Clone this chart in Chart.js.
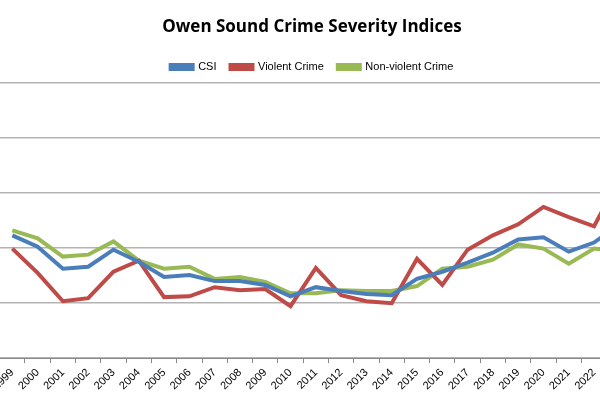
<!DOCTYPE html>
<html>
<head>
<script src="https://cdn.jsdelivr.net/npm/chart.js@4"></script>
<style>
body { margin: 0; overflow: hidden; background: #fff; }
#wrap { position: absolute; left: -8px; top: 0; width: 640px; height: 400px; }
</style>
</head>
<body>
<div id="wrap"><canvas id="chart"></canvas></div>
<script>
const years = ['1999','2000','2001','2002','2003','2004','2005','2006','2007','2008','2009','2010',
    '2011','2012','2013','2014','2015','2016','2017','2018','2019','2020','2021','2022','2023'];

const csi = [44.5,40.4,32.4,33.1,39.3,34.9,29.4,30.1,27.9,27.9,26.5,22.4,25.7,24.3,23.2,22.8,28.7,31.3,34.6,38.2,43.0,43.8,38.6,41.9,48.5];
const violent = [39.7,30.9,20.6,21.7,31.3,35.3,22.1,22.4,25.7,24.6,25.0,18.8,32.7,22.8,20.6,19.9,36.0,26.5,39.3,44.5,48.5,54.8,51.1,47.8,65.0];
const nonViolent = [46.3,43.4,36.8,37.5,42.3,35.3,32.4,33.1,28.7,29.4,27.6,23.5,23.5,24.6,24.3,24.3,26.1,32.4,33.1,35.7,41.2,39.7,34.2,39.7,38.6];

const line = (label, data, color) => ({
    label: label,
    data: data,
    borderColor: color,
    backgroundColor: color,
    borderWidth: 4,
    pointRadius: 0,
    tension: 0
});

new Chart(document.getElementById('chart'), {
    type: 'line',
    data: {
        labels: years,
        datasets: [
            line('CSI', csi, '#4a7ebb'),
            line('Violent Crime', violent, '#be4b48'),
            line('Non-violent Crime', nonViolent, '#98b954')
        ]
    },
    options: {
        responsive: true,
        maintainAspectRatio: false,
        animation: false,
        layout: { padding: 0 },
        scales: {
            x: {
                offset: true,
                grid: { offset: true, drawOnChartArea: false, tickLength: 5, color: '#888' },
                border: { color: '#888' },
                ticks: { maxRotation: 45, minRotation: 45, autoSkip: false, color: '#000',
                    font: { family: 'Liberation Sans', size: 11 } },
                afterFit: s => { s.height = 42; }
            },
            y: {
                min: 0, max: 100,
                ticks: { display: false, stepSize: 20 },
                grid: { color: '#b3b3b3', lineWidth: 1.5, drawTicks: false },
                border: { display: false },
                afterFit: s => { s.width = 0; }
            }
        },
        plugins: {
            title: {
                display: true,
                text: 'Owen Sound Crime Severity Indices',
                color: '#000',
                font: { family: 'Open Sans', size: 17, weight: 'bold' },
                padding: { top: 17, bottom: 10 }
            },
            legend: {
                labels: {
                    boxWidth: 22, boxHeight: 4, color: '#000',
                    font: { family: 'Liberation Sans', size: 11 },
                    padding: 14
                }
            },
            tooltip: { enabled: false }
        }
    }
});
</script>
</body>
</html>
